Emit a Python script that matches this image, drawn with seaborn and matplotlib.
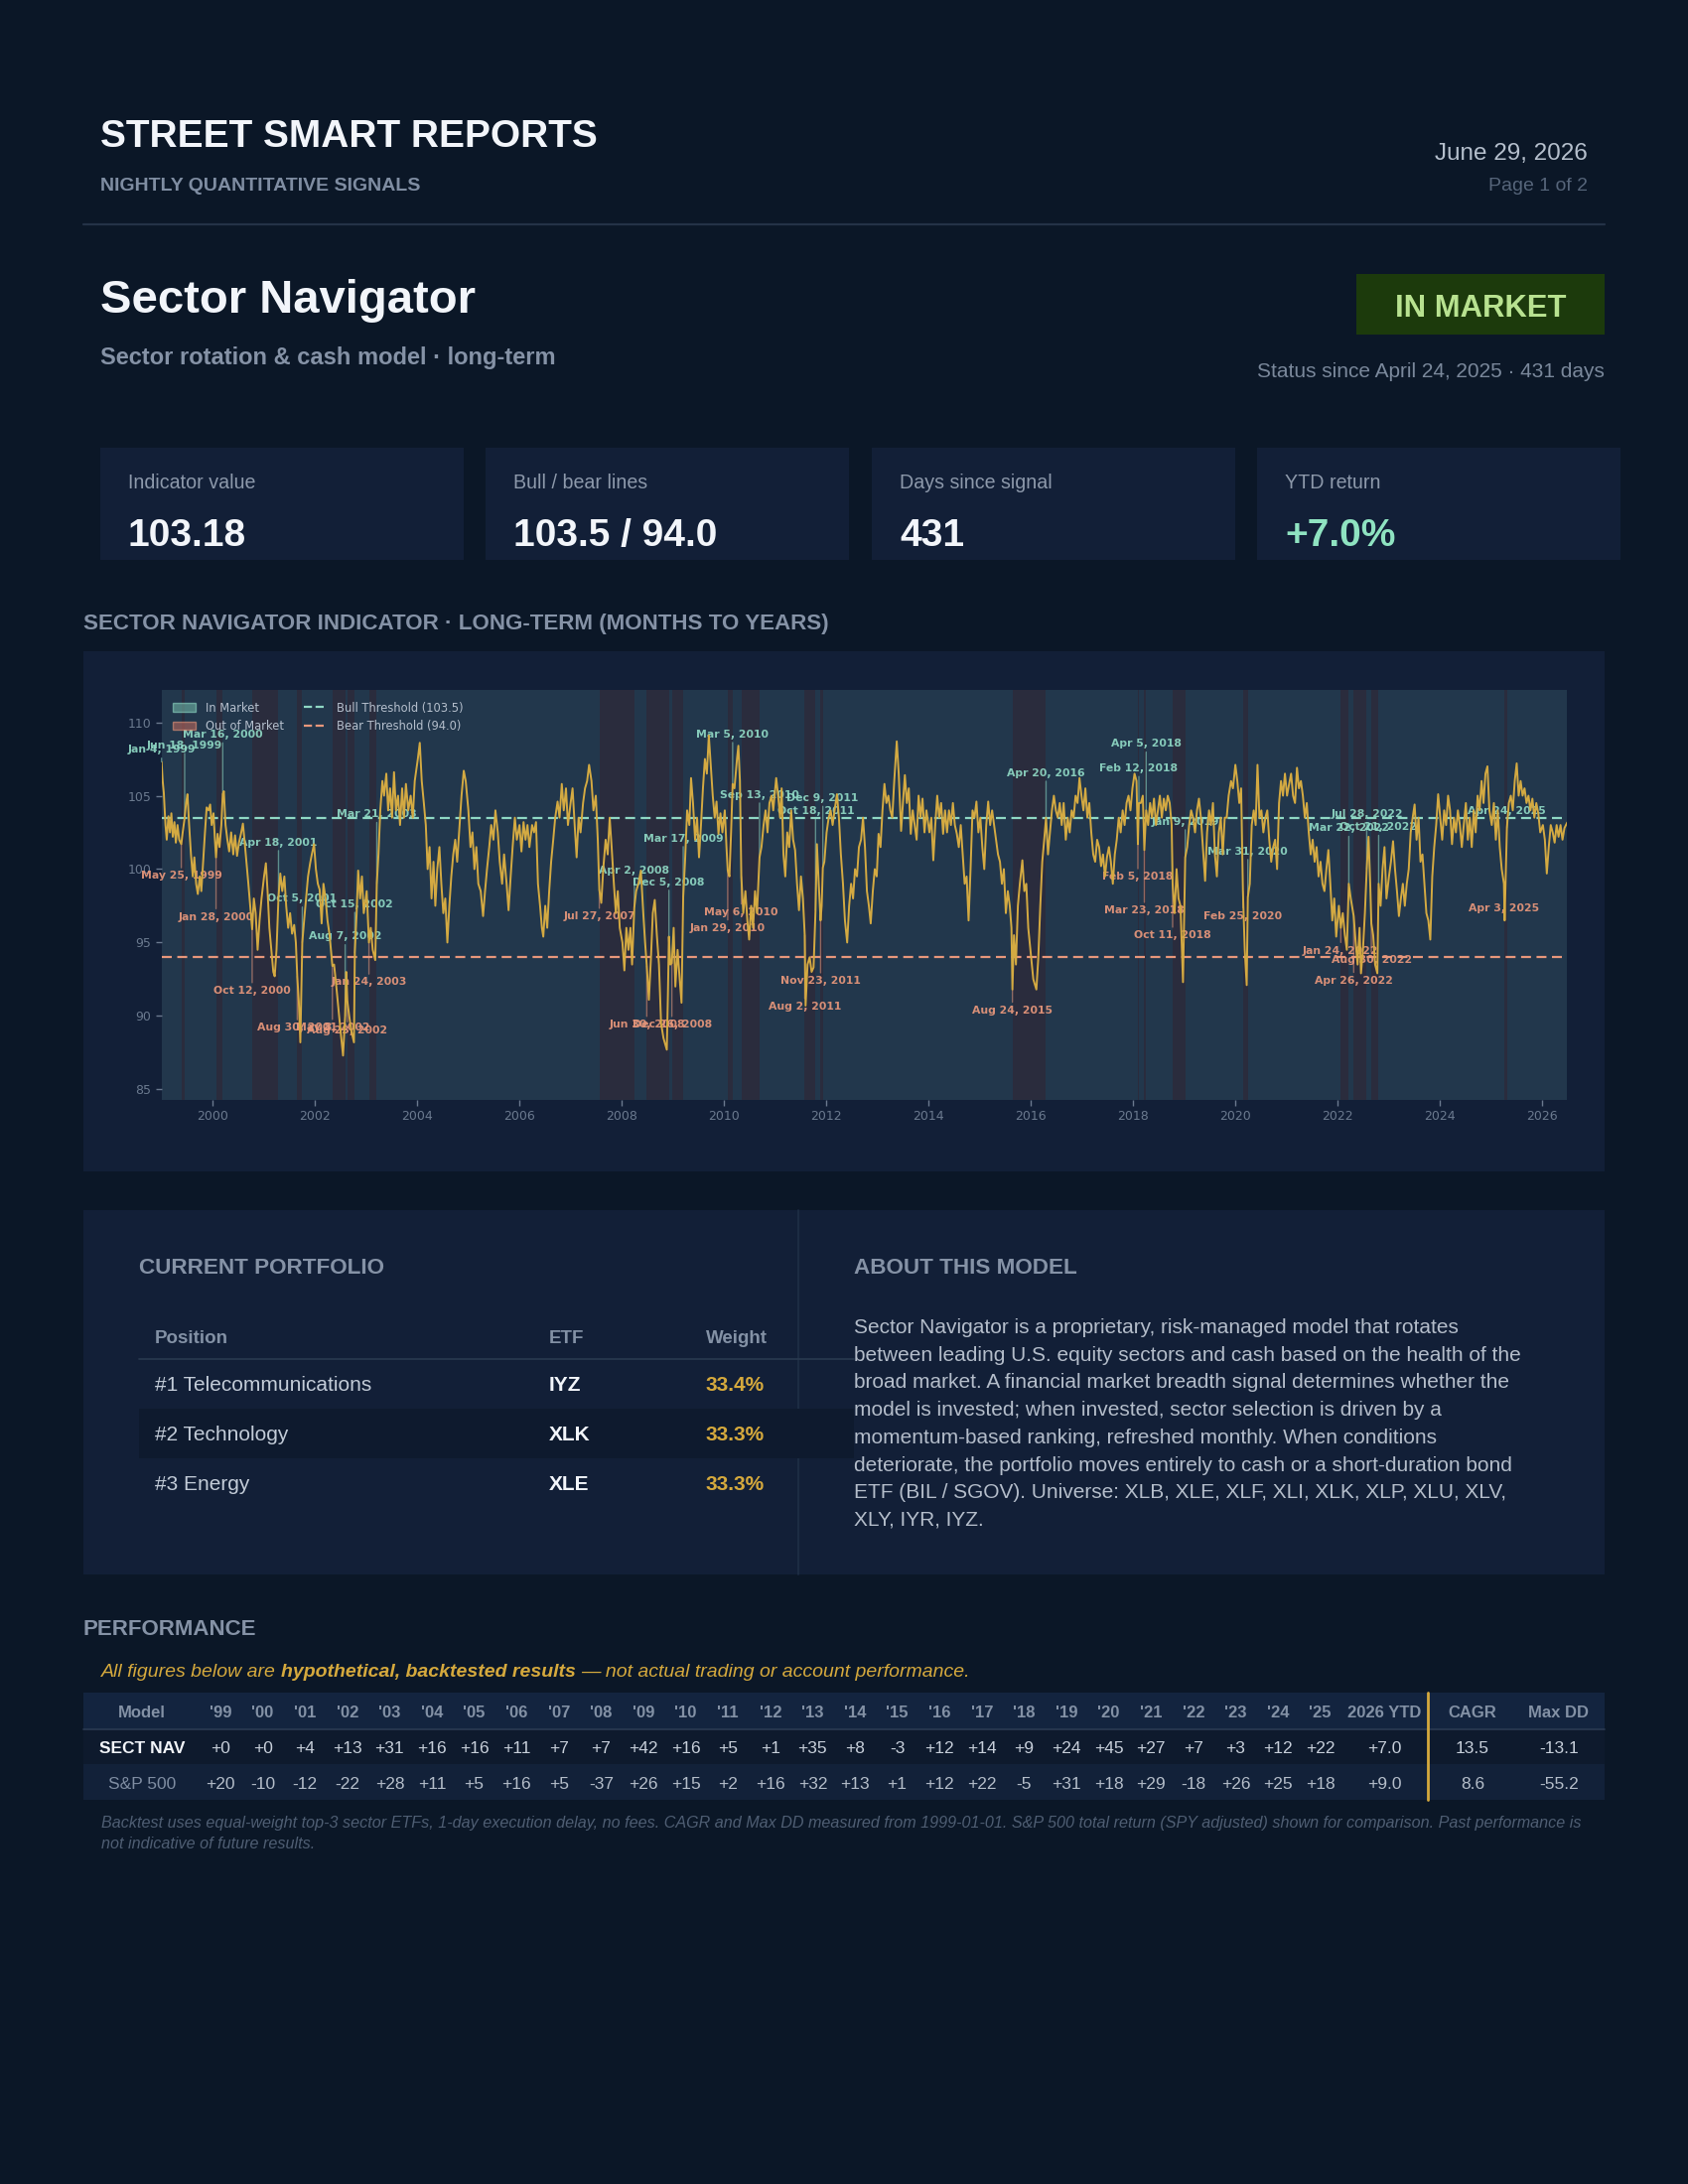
import matplotlib
matplotlib.use("Agg")
import matplotlib.pyplot as plt
import matplotlib.dates as mdates
from matplotlib.patches import Rectangle, Patch
from matplotlib.lines import Line2D
import numpy as np
import pandas as pd
import seaborn as sns

sns.set_theme(style="dark")
plt.rcParams["font.family"] = ["Liberation Sans", "DejaVu Sans"]

# ---------------------------------------------------------------- DATA
# indicator readings (date, value)
ind_1999_2002 = [
    ("1999-01-04", 107.3), ("1999-01-12", 106.0), ("1999-01-20", 105.2), ("1999-02-01", 103.0),
    ("1999-02-10", 102.0), ("1999-02-22", 103.6), ("1999-03-05", 102.5), ("1999-03-15", 103.8),
    ("1999-03-25", 102.2), ("1999-04-06", 103.2), ("1999-04-16", 101.8), ("1999-04-28", 103.0),
    ("1999-05-10", 102.0), ("1999-05-25", 101.7), ("1999-06-04", 102.5), ("1999-06-18", 103.5),
    ("1999-06-28", 104.5), ("1999-07-08", 105.1), ("1999-07-20", 103.0), ("1999-08-02", 101.0),
    ("1999-08-15", 99.5), ("1999-08-26", 100.8), ("1999-09-08", 99.0), ("1999-09-20", 98.3),
    ("1999-10-04", 99.5), ("1999-10-15", 98.5), ("1999-10-28", 100.5), ("1999-11-10", 102.5),
    ("1999-11-22", 104.2), ("1999-12-06", 104.0), ("1999-12-17", 104.4), ("1999-12-28", 103.0),
    ("2000-01-10", 103.8), ("2000-01-20", 102.0), ("2000-01-28", 100.8), ("2000-02-08", 102.4),
    ("2000-02-22", 101.5), ("2000-03-06", 103.0), ("2000-03-16", 105.1), ("2000-03-24", 105.3),
    ("2000-04-05", 103.0), ("2000-04-18", 102.0), ("2000-05-01", 101.2), ("2000-05-15", 102.5),
    ("2000-05-30", 101.0), ("2000-06-12", 102.3), ("2000-06-26", 100.9), ("2000-07-10", 101.8),
    ("2000-07-24", 102.4), ("2000-08-07", 103.1), ("2000-08-18", 102.0), ("2000-09-01", 100.5),
    ("2000-09-15", 99.0), ("2000-09-28", 97.5), ("2000-10-12", 95.9), ("2000-10-24", 98.0),
    ("2000-11-06", 97.0), ("2000-11-20", 94.5), ("2000-12-04", 96.5), ("2000-12-18", 98.0),
    ("2001-01-05", 99.5), ("2001-01-18", 100.4), ("2001-01-30", 98.5), ("2001-02-12", 96.0),
    ("2001-02-26", 94.5), ("2001-03-12", 93.0), ("2001-03-22", 92.7), ("2001-04-04", 94.5),
    ("2001-04-18", 98.1), ("2001-05-01", 99.7), ("2001-05-15", 98.5), ("2001-05-30", 99.5),
    ("2001-06-12", 97.5), ("2001-06-26", 96.0), ("2001-07-10", 97.0), ("2001-07-24", 95.6),
    ("2001-08-08", 96.2), ("2001-08-20", 95.0), ("2001-08-30", 92.7), ("2001-09-10", 91.0),
    ("2001-09-21", 88.2), ("2001-10-05", 95.0), ("2001-10-18", 96.5), ("2001-11-01", 98.0),
    ("2001-11-15", 99.5), ("2001-11-30", 100.4), ("2001-12-12", 101.0), ("2001-12-28", 101.7),
    ("2002-01-10", 100.0), ("2002-01-24", 99.0), ("2002-02-06", 98.6), ("2002-02-20", 96.3),
    ("2002-03-05", 99.0), ("2002-03-20", 98.0), ("2002-04-03", 96.5), ("2002-04-18", 95.5),
    ("2002-05-08", 93.4), ("2002-05-20", 93.5), ("2002-06-05", 92.0), ("2002-06-20", 90.5),
    ("2002-07-05", 89.0), ("2002-07-23", 87.3), ("2002-08-07", 90.0), ("2002-08-15", 93.0),
    ("2002-08-23", 91.0), ("2002-09-05", 90.0), ("2002-09-20", 89.0), ("2002-10-09", 88.2),
    ("2002-10-15", 94.3), ("2002-10-28", 97.0), ("2002-11-08", 99.9), ("2002-11-22", 98.0),
    ("2002-12-05", 99.5), ("2002-12-18", 97.0),
]
ind_2003_2006 = [
    ("2003-01-08", 98.5), ("2003-01-24", 95.0), ("2003-02-06", 96.0), ("2003-02-20", 94.5),
    ("2003-03-10", 93.8), ("2003-03-21", 99.0), ("2003-04-02", 101.0), ("2003-04-15", 104.0),
    ("2003-04-30", 106.0), ("2003-05-12", 105.0), ("2003-05-28", 106.5), ("2003-06-10", 104.0),
    ("2003-06-24", 105.5), ("2003-07-08", 103.5), ("2003-07-22", 106.6), ("2003-08-05", 104.0),
    ("2003-08-20", 105.0), ("2003-09-03", 103.0), ("2003-09-18", 105.5), ("2003-10-01", 103.5),
    ("2003-10-15", 105.8), ("2003-11-01", 104.0), ("2003-11-18", 105.0), ("2003-12-03", 103.5),
    ("2003-12-17", 106.0), ("2004-01-08", 107.5), ("2004-01-22", 108.6), ("2004-02-05", 106.0),
    ("2004-02-20", 104.5), ("2004-03-05", 103.0), ("2004-03-18", 100.0), ("2004-04-01", 101.5),
    ("2004-04-15", 98.0), ("2004-04-29", 100.5), ("2004-05-12", 97.5), ("2004-05-26", 100.0),
    ("2004-06-10", 101.5), ("2004-06-24", 99.0), ("2004-07-08", 97.0), ("2004-07-22", 98.0),
    ("2004-08-06", 95.0), ("2004-08-20", 97.5), ("2004-09-03", 99.5), ("2004-09-17", 101.0),
    ("2004-10-01", 102.0), ("2004-10-15", 100.5), ("2004-11-01", 103.0), ("2004-11-15", 105.0),
    ("2004-12-01", 106.7), ("2004-12-15", 106.0), ("2005-01-03", 104.0), ("2005-01-18", 101.5),
    ("2005-02-01", 102.5), ("2005-02-15", 100.0), ("2005-03-01", 101.5), ("2005-03-15", 99.0),
    ("2005-04-01", 98.5), ("2005-04-18", 96.8), ("2005-05-02", 98.5), ("2005-05-16", 100.0),
    ("2005-06-01", 101.5), ("2005-06-15", 103.0), ("2005-07-01", 102.0), ("2005-07-15", 104.0),
    ("2005-08-01", 102.5), ("2005-08-15", 100.5), ("2005-09-01", 99.0), ("2005-09-15", 101.0),
    ("2005-10-03", 99.0), ("2005-10-17", 97.2), ("2005-11-01", 99.5), ("2005-11-15", 101.5),
    ("2005-12-01", 103.5), ("2005-12-15", 102.0), ("2006-01-03", 103.0), ("2006-01-17", 101.2),
    ("2006-02-01", 103.2), ("2006-02-15", 102.0), ("2006-03-01", 103.0), ("2006-03-15", 101.5),
    ("2006-04-03", 103.0), ("2006-04-17", 102.5), ("2006-05-01", 103.2), ("2006-05-15", 99.0),
    ("2006-05-30", 97.5), ("2006-06-12", 96.0), ("2006-06-22", 95.4), ("2006-07-06", 97.5),
    ("2006-07-20", 96.0), ("2006-08-03", 98.5), ("2006-08-17", 100.5), ("2006-09-01", 102.0),
    ("2006-09-15", 103.5), ("2006-10-02", 104.6), ("2006-10-16", 103.5), ("2006-11-01", 105.8),
    ("2006-11-15", 104.0), ("2006-12-01", 105.5), ("2006-12-15", 103.0),
]
ind_2007_2010 = [
    ("2007-01-03", 104.5), ("2007-01-17", 105.5), ("2007-02-01", 103.0), ("2007-02-15", 100.8),
    ("2007-03-01", 103.5), ("2007-03-15", 102.5), ("2007-04-02", 104.5), ("2007-04-16", 105.5),
    ("2007-05-01", 106.0), ("2007-05-15", 107.1), ("2007-06-01", 106.0), ("2007-06-15", 104.0),
    ("2007-07-02", 105.0), ("2007-07-16", 102.0), ("2007-07-27", 98.6), ("2007-08-10", 97.7),
    ("2007-08-24", 100.0), ("2007-09-10", 102.0), ("2007-09-25", 101.0), ("2007-10-09", 103.5),
    ("2007-10-23", 101.5), ("2007-11-08", 99.0), ("2007-11-22", 97.0), ("2007-12-06", 98.5),
    ("2007-12-20", 96.0), ("2008-01-08", 95.0), ("2008-01-22", 93.1), ("2008-02-05", 96.0),
    ("2008-02-20", 94.5), ("2008-03-05", 96.0), ("2008-03-17", 93.5), ("2008-04-02", 97.4),
    ("2008-04-15", 98.5), ("2008-05-01", 99.0), ("2008-05-19", 99.9), ("2008-06-05", 97.0),
    ("2008-06-18", 95.0), ("2008-06-30", 93.4), ("2008-07-15", 91.1), ("2008-07-30", 94.0),
    ("2008-08-12", 97.0), ("2008-08-26", 97.9), ("2008-09-10", 95.5), ("2008-09-25", 93.5),
    ("2008-10-10", 89.5), ("2008-10-27", 88.5), ("2008-11-20", 87.7), ("2008-11-28", 91.5),
    ("2008-12-05", 95.4), ("2008-12-15", 93.5), ("2008-12-26", 93.6), ("2009-01-08", 96.0),
    ("2009-01-20", 92.0), ("2009-02-05", 94.5), ("2009-02-20", 92.5), ("2009-03-05", 90.9),
    ("2009-03-17", 98.1), ("2009-03-30", 100.5), ("2009-04-14", 104.0), ("2009-04-30", 103.0),
    ("2009-05-12", 106.2), ("2009-05-26", 104.5), ("2009-06-10", 102.0), ("2009-06-24", 103.5),
    ("2009-07-08", 100.8), ("2009-07-22", 103.0), ("2009-08-05", 105.5), ("2009-08-19", 107.5),
    ("2009-09-02", 106.5), ("2009-09-16", 109.1), ("2009-09-30", 107.0), ("2009-10-14", 105.0),
    ("2009-10-28", 103.5), ("2009-11-10", 104.6), ("2009-11-24", 102.4), ("2009-12-08", 103.8),
    ("2009-12-22", 102.5), ("2010-01-08", 104.0), ("2010-01-20", 101.5), ("2010-01-29", 99.9),
    ("2010-02-10", 99.5), ("2010-02-22", 102.5), ("2010-03-05", 105.8), ("2010-03-18", 105.5),
    ("2010-04-05", 107.5), ("2010-04-15", 108.4), ("2010-04-26", 106.0), ("2010-05-06", 99.5),
    ("2010-05-20", 97.0), ("2010-06-04", 98.5), ("2010-06-18", 96.5), ("2010-07-01", 95.2),
    ("2010-07-15", 97.5), ("2010-07-29", 96.0), ("2010-08-12", 98.5), ("2010-08-26", 97.0),
    ("2010-09-13", 100.8), ("2010-09-27", 101.5), ("2010-10-12", 103.0), ("2010-10-26", 104.0),
    ("2010-11-09", 102.5), ("2010-11-23", 104.5), ("2010-12-08", 105.0), ("2010-12-20", 104.0),
]
ind_2011_2014 = [
    ("2011-01-10", 106.2), ("2011-01-24", 105.0), ("2011-02-07", 103.5), ("2011-02-18", 105.5),
    ("2011-03-03", 101.0), ("2011-03-16", 99.5), ("2011-03-30", 102.5), ("2011-04-13", 101.5),
    ("2011-04-27", 104.0), ("2011-05-11", 102.0), ("2011-05-25", 101.3), ("2011-06-08", 99.0),
    ("2011-06-22", 97.2), ("2011-07-06", 99.5), ("2011-07-20", 98.0), ("2011-08-02", 95.5),
    ("2011-08-08", 90.7), ("2011-08-22", 93.5), ("2011-09-06", 94.0), ("2011-09-20", 93.0),
    ("2011-10-04", 93.3), ("2011-10-18", 97.2), ("2011-10-28", 101.7), ("2011-11-10", 99.0),
    ("2011-11-23", 96.5), ("2011-12-01", 97.5), ("2011-12-09", 100.1), ("2011-12-20", 100.5),
    ("2012-01-05", 102.5), ("2012-01-20", 103.5), ("2012-02-03", 104.0), ("2012-02-17", 103.0),
    ("2012-03-05", 104.2), ("2012-03-19", 105.1), ("2012-04-02", 103.5), ("2012-04-16", 101.0),
    ("2012-05-01", 99.0), ("2012-05-15", 96.5), ("2012-05-31", 95.0), ("2012-06-14", 97.5),
    ("2012-06-28", 99.0), ("2012-07-12", 98.0), ("2012-07-26", 100.0), ("2012-08-09", 99.5),
    ("2012-08-23", 101.5), ("2012-09-07", 102.0), ("2012-09-21", 103.5), ("2012-10-05", 101.5),
    ("2012-10-19", 98.5), ("2012-11-02", 97.5), ("2012-11-15", 96.3), ("2012-11-30", 98.5),
    ("2012-12-14", 100.0), ("2012-12-28", 99.5), ("2013-01-10", 102.4), ("2013-01-24", 101.5),
    ("2013-02-07", 104.0), ("2013-02-21", 105.8), ("2013-03-07", 104.5), ("2013-03-21", 105.0),
    ("2013-04-04", 104.0), ("2013-04-18", 103.5), ("2013-05-02", 106.0), ("2013-05-20", 108.7),
    ("2013-06-03", 106.5), ("2013-06-20", 102.6), ("2013-07-03", 104.5), ("2013-07-17", 106.4),
    ("2013-07-31", 104.5), ("2013-08-14", 105.5), ("2013-08-28", 102.4), ("2013-09-11", 104.0),
    ("2013-09-25", 103.0), ("2013-10-09", 102.0), ("2013-10-23", 105.0), ("2013-11-06", 103.5),
    ("2013-11-20", 104.8), ("2013-12-04", 102.5), ("2013-12-18", 104.0), ("2014-01-08", 102.5),
    ("2014-01-22", 103.5), ("2014-02-05", 100.6), ("2014-02-19", 103.0), ("2014-03-05", 105.0),
    ("2014-03-19", 103.5), ("2014-04-02", 104.5), ("2014-04-16", 102.4), ("2014-04-30", 104.0),
    ("2014-05-14", 102.5), ("2014-05-28", 104.0), ("2014-06-11", 103.0), ("2014-06-25", 104.5),
    ("2014-07-09", 103.0), ("2014-07-23", 102.4), ("2014-08-06", 101.5), ("2014-08-20", 103.0),
    ("2014-09-03", 101.0), ("2014-09-17", 99.0), ("2014-10-01", 99.5), ("2014-10-15", 96.5),
    ("2014-10-29", 100.0), ("2014-11-12", 104.0), ("2014-11-26", 103.5), ("2014-12-10", 104.6),
    ("2014-12-24", 102.5),
]
ind_2015_2018 = [
    ("2015-01-07", 103.5), ("2015-01-21", 101.5), ("2015-02-04", 100.0), ("2015-02-18", 103.0),
    ("2015-03-04", 104.6), ("2015-03-18", 103.0), ("2015-04-01", 104.0), ("2015-04-15", 103.0),
    ("2015-04-29", 102.0), ("2015-05-13", 101.0), ("2015-05-27", 100.5), ("2015-06-10", 99.0),
    ("2015-06-24", 100.0), ("2015-07-08", 97.0), ("2015-07-22", 98.5), ("2015-08-05", 97.5),
    ("2015-08-17", 96.0), ("2015-08-24", 91.8), ("2015-09-04", 95.5), ("2015-09-18", 93.5),
    ("2015-10-02", 97.5), ("2015-10-16", 99.0), ("2015-11-03", 100.6), ("2015-11-17", 98.5),
    ("2015-12-01", 99.0), ("2015-12-15", 96.0), ("2016-01-05", 94.0), ("2016-01-20", 92.5),
    ("2016-02-11", 91.8), ("2016-02-25", 94.0), ("2016-03-10", 97.5), ("2016-03-24", 100.5),
    ("2016-04-07", 102.0), ("2016-04-20", 103.5), ("2016-05-04", 101.0), ("2016-05-18", 102.5),
    ("2016-06-01", 104.0), ("2016-06-15", 105.0), ("2016-06-29", 104.0), ("2016-07-13", 103.5),
    ("2016-07-27", 104.5), ("2016-08-10", 103.0), ("2016-08-24", 104.5), ("2016-09-08", 102.0),
    ("2016-09-22", 103.5), ("2016-10-06", 102.5), ("2016-10-20", 104.0), ("2016-11-03", 103.5),
    ("2016-11-17", 105.0), ("2016-12-01", 104.5), ("2016-12-15", 106.2), ("2016-12-29", 105.0),
    ("2017-01-12", 104.0), ("2017-01-26", 105.5), ("2017-02-09", 103.5), ("2017-02-23", 104.5),
    ("2017-03-09", 102.5), ("2017-03-23", 101.0), ("2017-04-06", 100.5), ("2017-04-20", 102.0),
    ("2017-05-04", 101.5), ("2017-05-18", 100.2), ("2017-06-01", 101.0), ("2017-06-15", 99.5),
    ("2017-06-29", 100.8), ("2017-07-13", 101.5), ("2017-07-27", 100.5), ("2017-08-10", 99.0),
    ("2017-08-24", 101.0), ("2017-09-07", 102.0), ("2017-09-21", 103.5), ("2017-10-05", 102.5),
    ("2017-10-19", 104.0), ("2017-11-02", 103.0), ("2017-11-16", 104.5), ("2017-11-30", 105.0),
    ("2017-12-14", 104.0), ("2017-12-28", 105.5), ("2018-01-12", 106.5), ("2018-01-26", 106.0),
    ("2018-02-05", 101.7), ("2018-02-12", 104.5), ("2018-02-26", 104.5), ("2018-03-12", 105.0),
    ("2018-03-23", 101.3), ("2018-04-05", 104.0), ("2018-04-19", 103.0), ("2018-05-03", 104.5),
    ("2018-05-17", 103.5), ("2018-05-31", 104.8), ("2018-06-14", 103.0), ("2018-06-28", 104.0),
    ("2018-07-12", 105.0), ("2018-07-26", 103.5), ("2018-08-09", 104.8), ("2018-08-23", 104.0),
    ("2018-09-06", 105.0), ("2018-09-20", 104.5), ("2018-10-04", 103.0), ("2018-10-11", 99.0),
    ("2018-10-25", 97.0), ("2018-11-08", 100.0), ("2018-11-22", 98.0), ("2018-12-06", 97.5),
    ("2018-12-24", 92.3),
]
ind_2019_2022 = [
    ("2019-01-09", 100.8), ("2019-01-23", 101.5), ("2019-02-06", 103.0), ("2019-02-20", 104.0),
    ("2019-03-06", 103.5), ("2019-03-20", 102.5), ("2019-04-03", 104.0), ("2019-04-17", 104.8),
    ("2019-05-01", 103.5), ("2019-05-15", 101.5), ("2019-05-31", 99.2), ("2019-06-14", 102.5),
    ("2019-06-28", 104.0), ("2019-07-12", 103.0), ("2019-07-26", 104.5), ("2019-08-09", 101.0),
    ("2019-08-23", 99.5), ("2019-09-06", 102.5), ("2019-09-20", 103.5), ("2019-10-04", 101.0),
    ("2019-10-18", 103.5), ("2019-11-01", 103.5), ("2019-11-15", 105.0), ("2019-12-02", 106.0),
    ("2019-12-16", 105.5), ("2020-01-02", 107.1), ("2020-01-16", 106.0), ("2020-01-30", 104.5),
    ("2020-02-12", 105.5), ("2020-02-25", 98.5), ("2020-03-09", 94.5), ("2020-03-23", 92.1),
    ("2020-03-31", 98.1), ("2020-04-14", 99.0), ("2020-04-28", 103.0), ("2020-05-12", 104.0),
    ("2020-05-26", 103.0), ("2020-06-08", 107.1), ("2020-06-22", 103.5), ("2020-07-06", 104.0),
    ("2020-07-20", 102.5), ("2020-08-03", 103.5), ("2020-08-17", 104.0), ("2020-08-31", 102.0),
    ("2020-09-14", 100.5), ("2020-09-28", 101.5), ("2020-10-12", 102.0), ("2020-10-26", 100.0),
    ("2020-11-09", 104.5), ("2020-11-23", 106.0), ("2020-12-07", 105.0), ("2020-12-21", 106.5),
    ("2021-01-05", 105.0), ("2021-01-20", 105.8), ("2021-02-03", 106.5), ("2021-02-17", 105.0),
    ("2021-03-03", 104.5), ("2021-03-17", 106.9), ("2021-03-31", 105.5), ("2021-04-14", 106.0),
    ("2021-04-28", 105.0), ("2021-05-12", 103.5), ("2021-05-26", 104.5), ("2021-06-09", 102.5),
    ("2021-06-23", 101.0), ("2021-07-07", 102.0), ("2021-07-21", 100.5), ("2021-08-04", 101.5),
    ("2021-08-18", 99.5), ("2021-09-01", 100.5), ("2021-09-15", 99.0), ("2021-09-29", 98.5),
    ("2021-10-13", 100.0), ("2021-10-27", 101.3), ("2021-11-10", 99.0), ("2021-11-24", 96.5),
    ("2021-12-08", 98.0), ("2021-12-22", 95.4), ("2022-01-10", 97.5), ("2022-01-24", 96.0),
    ("2022-02-07", 97.0), ("2022-02-22", 95.5), ("2022-03-08", 94.5), ("2022-03-22", 99.0),
    ("2022-04-05", 98.0), ("2022-04-26", 96.8), ("2022-05-10", 95.0), ("2022-05-24", 93.5),
    ("2022-06-07", 96.0), ("2022-06-17", 92.9), ("2022-07-01", 94.5), ("2022-07-15", 97.0),
    ("2022-07-28", 100.0), ("2022-08-10", 102.2), ("2022-08-22", 99.0), ("2022-08-30", 96.3),
    ("2022-09-12", 95.5), ("2022-09-26", 93.5), ("2022-10-12", 92.9), ("2022-10-21", 99.0),
    ("2022-11-04", 97.5), ("2022-11-18", 100.0), ("2022-12-02", 101.5), ("2022-12-16", 98.0),
]
ind_2023_2026 = [
    ("2023-01-03", 99.5), ("2023-01-17", 100.5), ("2023-02-01", 101.9), ("2023-02-15", 100.0),
    ("2023-03-01", 98.5), ("2023-03-15", 96.8), ("2023-03-29", 98.0), ("2023-04-12", 99.0),
    ("2023-04-26", 97.5), ("2023-05-10", 99.0), ("2023-05-24", 100.0), ("2023-06-07", 102.5),
    ("2023-06-21", 103.5), ("2023-07-05", 104.4), ("2023-07-19", 102.0), ("2023-08-02", 103.5),
    ("2023-08-16", 100.5), ("2023-08-30", 101.0), ("2023-09-13", 99.0), ("2023-09-27", 97.0),
    ("2023-10-11", 96.5), ("2023-10-25", 95.2), ("2023-11-08", 99.5), ("2023-11-22", 101.5),
    ("2023-12-06", 103.0), ("2023-12-20", 105.1), ("2024-01-04", 103.5), ("2024-01-18", 102.0),
    ("2024-02-01", 104.0), ("2024-02-15", 103.0), ("2024-02-29", 105.0), ("2024-03-14", 104.0),
    ("2024-03-28", 101.7), ("2024-04-11", 103.5), ("2024-04-25", 102.5), ("2024-05-09", 104.0),
    ("2024-05-23", 103.0), ("2024-06-06", 101.5), ("2024-06-20", 103.0), ("2024-07-05", 104.5),
    ("2024-07-19", 102.0), ("2024-08-02", 103.5), ("2024-08-16", 101.5), ("2024-08-30", 104.0),
    ("2024-09-13", 102.5), ("2024-09-27", 105.0), ("2024-10-11", 104.0), ("2024-10-25", 106.0),
    ("2024-11-08", 104.5), ("2024-11-22", 106.5), ("2024-12-06", 107.0), ("2024-12-20", 104.0),
    ("2025-01-06", 103.0), ("2025-01-21", 104.5), ("2025-02-04", 102.0), ("2025-02-18", 104.0),
    ("2025-03-04", 101.5), ("2025-03-18", 100.0), ("2025-04-03", 99.0), ("2025-04-08", 96.5),
    ("2025-04-24", 102.8), ("2025-05-08", 104.5), ("2025-05-22", 105.0), ("2025-06-05", 104.0),
    ("2025-06-19", 106.0), ("2025-07-03", 107.2), ("2025-07-17", 105.0), ("2025-07-31", 106.0),
    ("2025-08-14", 105.0), ("2025-08-28", 105.5), ("2025-09-11", 104.5), ("2025-09-25", 105.0),
    ("2025-10-09", 104.0), ("2025-10-23", 104.8), ("2025-11-06", 103.5), ("2025-11-20", 104.5),
    ("2025-12-04", 103.8), ("2025-12-18", 102.5), ("2026-01-06", 103.0), ("2026-01-20", 102.0),
    ("2026-02-03", 99.7), ("2026-02-17", 101.5), ("2026-03-03", 103.0), ("2026-03-17", 102.5),
    ("2026-03-31", 101.8), ("2026-04-14", 103.0), ("2026-04-28", 102.2), ("2026-05-12", 103.0),
    ("2026-05-26", 102.0), ("2026-06-09", 102.8), ("2026-06-29", 103.18),
]

bull_threshold = 103.5
bear_threshold = 94.0

signal_dates = [
    "1999-01-04", "1999-05-25", "1999-06-18", "2000-01-28", "2000-03-16", "2000-10-12",
    "2001-04-18", "2001-08-30", "2001-10-05", "2002-05-08", "2002-08-07", "2002-08-23",
    "2002-10-15", "2003-01-24", "2003-03-21", "2007-07-27", "2008-04-02", "2008-06-30",
    "2008-12-05", "2008-12-26", "2009-03-17", "2010-01-29", "2010-03-05", "2010-05-06",
    "2010-09-13", "2011-08-02", "2011-10-18", "2011-11-23", "2011-12-09", "2015-08-24",
    "2016-04-20", "2018-02-05", "2018-02-12", "2018-03-23", "2018-04-05", "2018-10-11",
    "2019-01-09", "2020-02-25", "2020-03-31", "2022-01-24", "2022-03-22", "2022-04-26",
    "2022-07-28", "2022-08-30", "2022-10-21", "2025-04-03", "2025-04-24",
]
signal_types = [
    "in", "out", "in", "out", "in", "out", "in", "out", "in", "out", "in", "out",
    "in", "out", "in", "out", "in", "out", "in", "out", "in", "out", "in", "out",
    "in", "out", "in", "out", "in", "out", "in", "out", "in", "out", "in", "out",
    "in", "out", "in", "out", "in", "out", "in", "out", "in", "out", "in",
]

card_labels = ["Indicator value", "Bull / bear lines", "Days since signal", "YTD return"]
card_values = ["103.18", "103.5 / 94.0", "431", "+7.0%"]

positions = ["#1 Telecommunications", "#2 Technology", "#3 Energy"]
etfs = ["IYZ", "XLK", "XLE"]
weights = ["33.4%", "33.3%", "33.3%"]

about_lines = [
    "Sector Navigator is a proprietary, risk-managed model that rotates",
    "between leading U.S. equity sectors and cash based on the health of the",
    "broad market. A financial market breadth signal determines whether the",
    "model is invested; when invested, sector selection is driven by a",
    "momentum-based ranking, refreshed monthly. When conditions",
    "deteriorate, the portfolio moves entirely to cash or a short-duration bond",
    "ETF (BIL / SGOV). Universe: XLB, XLE, XLF, XLI, XLK, XLP, XLU, XLV,",
    "XLY, IYR, IYZ.",
]

perf_years = ["'99", "'00", "'01", "'02", "'03", "'04", "'05", "'06", "'07", "'08", "'09",
              "'10", "'11", "'12", "'13", "'14", "'15", "'16", "'17", "'18", "'19", "'20",
              "'21", "'22", "'23", "'24", "'25"]
sect_nav = [0, 0, 4, 13, 31, 16, 16, 11, 7, 7, 42, 16, 5, 1, 35, 8, -3, 12, 14, 9, 24, 45,
            27, 7, 3, 12, 22]
sp500 = [20, -10, -12, -22, 28, 11, 5, 16, 5, -37, 26, 15, 2, 16, 32, 13, 1, 12, 22, -5, 31,
         18, 29, -18, 26, 25, 18]
ytd_vals = [7.0, 9.0]
cagr_vals = [13.5, 8.6]
maxdd_vals = [-13.1, -55.2]

# ---------------------------------------------------------------- STYLE
PAGE = "#0b1727"
PANEL = "#121f37"
AXBG = "#20344a"
OUTBG = "#2a2c3d"
WHITE = "#f2f5fa"
GREY = "#8592a6"
DIM = "#56657a"
GOLD = "#d5a93d"
MINT = "#8fd8c4"
SALMON = "#e8977b"
LINE = "#d4aa42"

# per-signal label distance (pixels) from the point
label_dy = [12, 32, 73, 60, 60, 62, 55, 52, 44, 62, 80, 29, 49, 40, 70, 27, 37, 59, 55, 62,
            59, 58, 50, 36, 63, 72, 100, 61, 70, 21, 45, 33, 35, 61, 67, 52, 36, 25, 46, 23,
            56, 65, 55, 37, 57, 25, 17]

W, H = 1700, 2200
fig = plt.figure(figsize=(W / 100, H / 100), dpi=100, facecolor=PAGE)
bg = fig.add_axes([0, 0, 1, 1], zorder=0)
bg.set_xlim(0, W)
bg.set_ylim(H, 0)
bg.axis("off")
bg.set_facecolor(PAGE)


def rect(x0, y0, x1, y1, color, z=1, **kw):
    bg.add_patch(Rectangle((x0, y0), x1 - x0, y1 - y0, facecolor=color, edgecolor="none",
                           zorder=z, **kw))


def txt(x, y, s, size, color, weight="normal", ha="left", style="normal", va="baseline", **kw):
    return bg.text(x, y, s, fontsize=size, color=color, fontweight=weight, ha=ha, va=va,
                   fontstyle=style, zorder=5, **kw)


# ---------------------------------------------------------------- HEADER
txt(101, 148, "STREET SMART REPORTS", 28, WHITE, "bold")
txt(101, 192, "NIGHTLY QUANTITATIVE SIGNALS", 14, "#7f8da2", "bold")
txt(1599, 161, "June 29, 2026", 17.5, "#b5bfcc", ha="right")
txt(1599, 192, "Page 1 of 2", 14, DIM, ha="right")
bg.plot([84, 1616], [225.5, 225.5], color="#243247", lw=1.6, zorder=2)

txt(101, 315, "Sector Navigator", 34, WHITE, "bold")
txt(101, 367, "Sector rotation & cash model \u00b7 long-term", 17, GREY, "bold")
rect(1366, 276, 1616, 337, "#1c3a0c")
txt(1491, 311, "IN MARKET", 22.3, "#b8e290", "bold", ha="center", va="center")
txt(1616, 380, "Status since April 24, 2025 \u00b7 431 days", 15, "#7a889b", ha="right")

card_x = [101, 489, 878, 1266]
for cx, lab, val in zip(card_x, card_labels, card_values):
    rect(cx, 451, cx + 366, 564, PANEL)
    txt(cx + 28, 492, lab, 14.1, "#8d99ab")
    txt(cx + 28, 550, val, 28, "#8fe3c1" if val.startswith("+") else WHITE, "bold")

# ---------------------------------------------------------------- CHART PANEL
txt(84, 634, "SECTOR NAVIGATOR INDICATOR \u00b7 LONG-TERM (MONTHS TO YEARS)", 16.1, GREY, "bold")
rect(84, 656, 1616, 1180, PANEL)

rows = ind_1999_2002 + ind_2003_2006 + ind_2007_2010 + ind_2011_2014 + ind_2015_2018 + \
    ind_2019_2022 + ind_2023_2026
df = pd.DataFrame(rows, columns=["date", "value"])
df["date"] = pd.to_datetime(df["date"])
series = df.set_index("date")["value"]

ax = fig.add_axes([162.7 / W, 1 - 1107.7 / H, (1578.4 - 162.7) / W, 412.7 / H], zorder=2)
ax.set_facecolor(AXBG)
for s in ax.spines.values():
    s.set_visible(False)

sig = pd.to_datetime(pd.Series(signal_dates))
end = df["date"].max()
for i, (d, kind) in enumerate(zip(sig, signal_types)):
    nxt = sig.iloc[i + 1] if i + 1 < len(sig) else end
    if kind == "out":
        ax.axvspan(d, nxt, color=OUTBG, alpha=1.0, lw=0, zorder=0)
    else:
        ax.axvspan(d, nxt, color="#7fd1bd", alpha=0.025, lw=0, zorder=0)

ax.axhline(bull_threshold, color=MINT, lw=1.6, ls=(0, (4.5, 2.5)), zorder=2)
ax.axhline(bear_threshold, color=SALMON, lw=1.6, ls=(0, (4.5, 2.5)), zorder=2)

sns.lineplot(data=df, x="date", y="value", ax=ax, color=LINE, lw=1.4, zorder=4)

for d, kind, dy in zip(sig, signal_types, label_dy):
    v = series.loc[d]
    col = MINT if kind == "in" else SALMON
    off = dy if kind == "in" else -dy
    ax.annotate(f"{d:%b} {d.day}, {d.year}", xy=(d, v), xytext=(0, off),
                textcoords="offset pixels", ha="center", va="center", fontsize=7.8,
                fontweight="bold", color=col, alpha=0.92, family="DejaVu Sans",
                arrowprops=dict(arrowstyle="-", color=col, lw=1.0, alpha=0.55,
                                shrinkA=0, shrinkB=0),
                zorder=3, annotation_clip=False)

ax.set_xlim(df["date"].min(), end)
ax.set_ylim(84.3, 112.2)
ax.set_yticks([85, 90, 95, 100, 105, 110])
ax.xaxis.set_major_locator(mdates.YearLocator(2))
ax.xaxis.set_major_formatter(mdates.DateFormatter("%Y"))
ax.set_xlabel("")
ax.set_ylabel("")
ax.grid(False)
ax.tick_params(axis="both", colors="#6b7a8f", labelsize=9, length=4, width=1,
               bottom=True, left=True)
for lab in ax.get_xticklabels() + ax.get_yticklabels():
    lab.set_family("DejaVu Sans")

handles = [
    Patch(facecolor="#6fb3a3", edgecolor="#8fd8c4", alpha=0.6, label="In Market"),
    Patch(facecolor="#b8665a", edgecolor="#e8977b", alpha=0.6, label="Out of Market"),
    Line2D([0], [0], color=MINT, lw=1.6, ls="--", label="Bull Threshold (103.5)"),
    Line2D([0], [0], color=SALMON, lw=1.6, ls="--", label="Bear Threshold (94.0)"),
]
leg = ax.legend(handles=handles, loc="upper left", ncol=2, frameon=False,
                prop={"family": "DejaVu Sans", "size": 8.3}, labelcolor="#b5bfcc",
                borderaxespad=0.6, columnspacing=1.8, handlelength=2.0)
leg.set_zorder(6)

# ---------------------------------------------------------------- PORTFOLIO / ABOUT
rect(84, 1219, 1616, 1586, PANEL)
bg.plot([804, 804], [1219, 1586], color="#1f2f46", lw=1.2, zorder=2)
txt(140, 1283, "CURRENT PORTFOLIO", 16.2, GREY, "bold")
txt(860, 1283, "ABOUT THIS MODEL", 16.2, GREY, "bold")

col_x = [156, 553, 711]
for x, h in zip(col_x, ["Position", "ETF", "Weight"]):
    txt(x, 1353, h, 13.5, "#8391a5", "bold")
bg.plot([140, 860], [1369, 1369], color="#2a3a50", lw=1.2, zorder=3)
rect(140, 1419, 860, 1469, "#0e1a2e", z=2)
for i, (p, e, w) in enumerate(zip(positions, etfs, weights)):
    yb = 1401 + i * 50
    txt(col_x[0], yb, p, 15, "#c3ccd8")
    txt(col_x[1], yb, e, 15, WHITE, "bold")
    txt(col_x[2], yb, w, 15, GOLD, "bold")

for i, line in enumerate(about_lines):
    txt(860, 1343 + i * 27.7, line, 15, "#b4bdca")

# ---------------------------------------------------------------- PERFORMANCE
txt(84, 1647, "PERFORMANCE", 16, GREY, "bold")
fig.canvas.draw()
rend = fig.canvas.get_renderer()
segs = [("All figures below are", "normal"), ("hypothetical, backtested results", "bold"),
        ("\u2014 not actual trading or account performance.", "normal")]
x = 102
for s, wgt in segs:
    t = txt(x, 1689, s, 14, GOLD, wgt, style="italic")
    x += t.get_window_extent(renderer=rend).width + 5

rect(84, 1705, 1616, 1742, "#13243f")
rect(84, 1742, 1616, 1777, "#0e1a2d")
rect(84, 1777, 1616, 1813, "#122139")
bg.plot([84, 1616], [1742, 1742], color="#2a3a52", lw=1.2, zorder=3)
bg.plot([1438, 1438], [1705, 1813], color=GOLD, lw=2, zorder=4)

year_x = [222 + i * 42.6 for i in range(len(perf_years))]
hdr_col = "#8391a5"
txt(143, 1730, "Model", 12, hdr_col, "bold", ha="center")
for x, y in zip(year_x, perf_years):
    txt(x, 1730, y, 12, hdr_col, "bold", ha="center")
txt(1394, 1730, "2026 YTD", 12, hdr_col, "bold", ha="center")
txt(1483, 1730, "CAGR", 12, hdr_col, "bold", ha="center")
txt(1570, 1730, "Max DD", 12, hdr_col, "bold", ha="center")

txt(143, 1766, "SECT NAV", 12.5, WHITE, "bold", ha="center")
txt(143, 1802, "S&P 500", 12.5, "#7f8da2", ha="center")
for row_y, vals, col, ytd, cg, dd in [(1766, sect_nav, "#c7cfda", ytd_vals[0], cagr_vals[0], maxdd_vals[0]),
                                      (1802, sp500, "#b4bdc9", ytd_vals[1], cagr_vals[1], maxdd_vals[1])]:
    for x, v in zip(year_x, vals):
        txt(x, row_y, f"{v:+d}", 12.5, col, ha="center")
    txt(1394, row_y, f"{ytd:+.1f}", 12.5, col, ha="center")
    txt(1483, row_y, f"{cg:.1f}", 12.5, col, ha="center")
    txt(1570, row_y, f"{dd:.1f}", 12.5, col, ha="center")

txt(102, 1841, "Backtest uses equal-weight top-3 sector ETFs, 1-day execution delay, no fees. "
    "CAGR and Max DD measured from 1999-01-01. S&P 500 total return (SPY adjusted) shown for "
    "comparison. Past performance is", 11.6, "#4f5e73", style="italic")
txt(102, 1862, "not indicative of future results.", 11.6, "#4f5e73", style="italic")

fig.savefig("out.png", dpi=100, facecolor=PAGE)
